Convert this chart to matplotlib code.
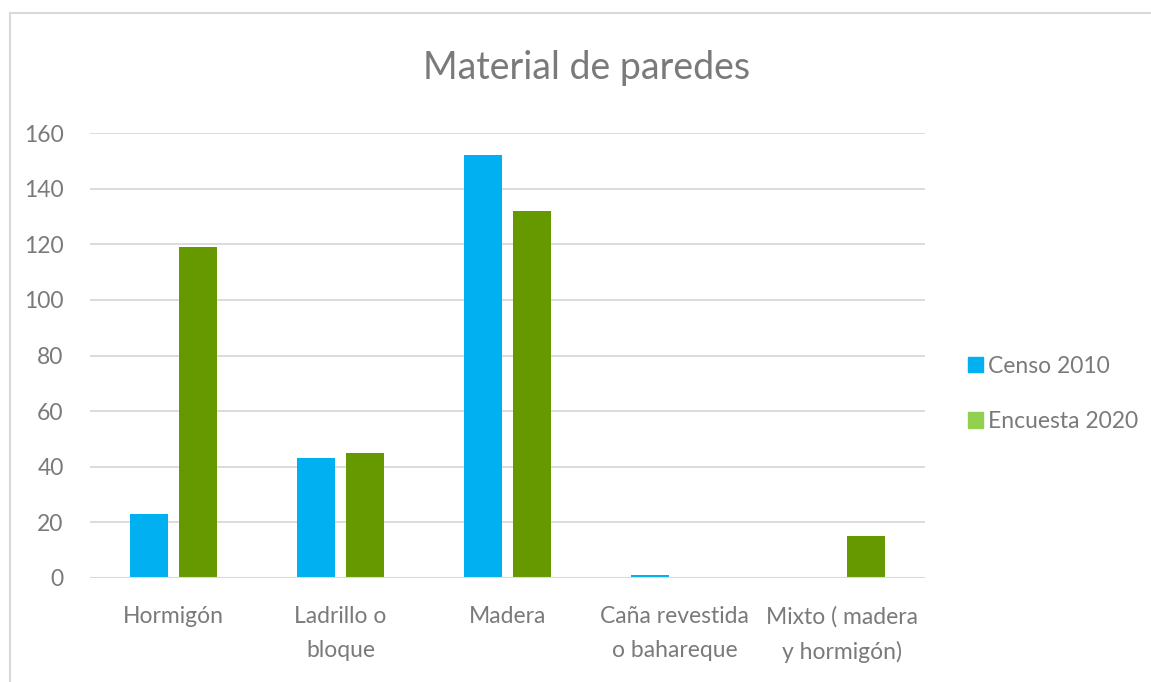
import matplotlib.pyplot as plt
import numpy as np
from matplotlib.patches import Patch
from matplotlib.lines import Line2D

categories = ["Hormigón", "Ladrillo o\nbloque", "Madera", "Caña revestida\no bahareque", "Mixto ( madera\ny hormigón)"]
censo_2010 = [23, 43, 152, 1, 0]
encuesta_2020 = [119, 45, 132, 0, 15]
y_ticks = [0, 20, 40, 60, 80, 100, 120, 140, 160]

plt.rcParams['font.family'] = ['Lato', 'DejaVu Sans']
txt = '#7a7a7a'

fig = plt.figure(figsize=(11.51, 6.82), dpi=100)
ax = fig.add_axes([90 / 1151, 1 - 578 / 682, 835 / 1151, (578 - 133) / 682])

x = np.arange(len(categories))
w = 0.228
off = 0.144
ax.bar(x - off, censo_2010, w, color='#00B0F0', zorder=3)
ax.bar(x + off, encuesta_2020, w, color='#669900', zorder=3)

ax.set_xlim(-0.5, len(categories) - 0.5)
ax.set_ylim(0, 160)
ax.set_yticks(y_ticks)
ax.set_xticks(x)
ax.set_xticklabels(categories, fontsize=16.5, color=txt, linespacing=1.75)
ax.tick_params(axis='y', labelsize=16.5, colors=txt, length=0, pad=19)
ax.tick_params(axis='x', length=0, pad=20)
ax.grid(axis='y', color='#d9d9d9', linewidth=1.3, zorder=0)
for s in ax.spines.values():
    s.set_visible(False)
ax.axhline(0, color='#d9d9d9', linewidth=1.5, zorder=4)

fig.text(587 / 1151, 1 - 68 / 682, "Material de paredes", ha='center', va='center',
         fontsize=27, color=txt)

handles = [Patch(color='#00B0F0'), Patch(color='#92D050')]
fig.legend(handles, ["Censo 2010", "Encuesta 2020"], loc='center left',
           bbox_to_anchor=(947 / 1151, 1 - 394 / 682), frameon=False,
           fontsize=16.5, labelcolor=txt, handlelength=0.65, handleheight=0.65,
           handletextpad=0.25, labelspacing=1.5)

# chart frame edges
fig.add_artist(Line2D([10 / 1151, 1], [1 - 12.5 / 682] * 2, color='#d9d9d9', linewidth=1.5))
fig.add_artist(Line2D([10 / 1151] * 2, [0, 1 - 12.5 / 682], color='#d9d9d9', linewidth=1.5))

fig.savefig('out.png', dpi=100)
